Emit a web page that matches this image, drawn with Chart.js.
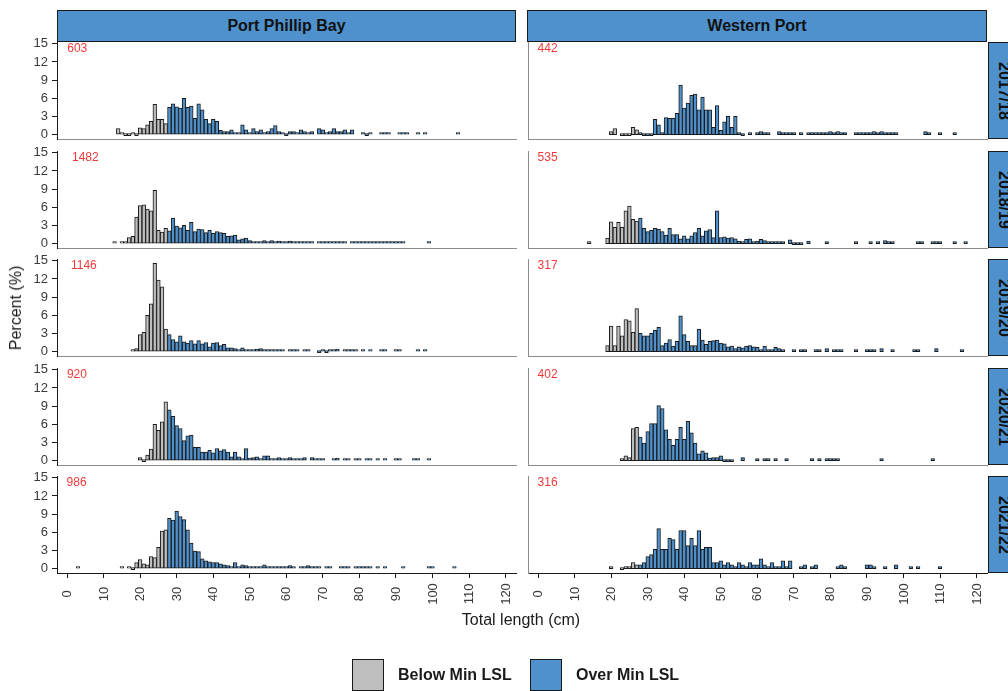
<!DOCTYPE html>
<html><head><meta charset="utf-8">
<script src="https://cdn.jsdelivr.net/npm/chart.js@4.4.1/dist/chart.umd.min.js"></script>
<style>
html,body{margin:0;padding:0;background:#fff;}
body{width:1008px;height:691px;overflow:hidden;position:relative;font-family:"Liberation Sans",Arial,sans-serif;color:#1a1a1a;}
.strip{position:absolute;background:#4e91cd;border:1.5px solid #1a1a1a;box-sizing:border-box;display:flex;align-items:center;justify-content:center;font-weight:bold;font-size:16px;color:#111;}
.rstrip{writing-mode:vertical-rl;}
canvas{position:absolute;}
.txt{position:absolute;white-space:nowrap;}
.lbox{position:absolute;width:32px;height:32px;border:1.5px solid #1a1a1a;box-sizing:border-box;}
</style></head><body>
<script>
// ---------------- data ----------------
const sites = ["Port Phillip Bay", "Western Port"];
const seasons = ["2017/18", "2018/19", "2019/20", "2020/21", "2021/22"];
const countsPPB = [603, 1482, 1146, 920, 986];
const countsWP = [442, 535, 317, 402, 316];
const minLSL = 28;            // first length class (cm) over the minimum legal size
const xTicks = [0, 10, 20, 30, 40, 50, 60, 70, 80, 90, 100, 110, 120];
const yTicks = [0, 3, 6, 9, 12, 15];
const legendLabels = ["Below Min LSL", "Over Min LSL"];

// percent of fish per 1 cm length class; first class given by *Start; null = no bar
const ppb1718Start = 14;
const ppb1718 = [1.0,0.3,0,0,0.2,0,1.1,1.0,1.6,2.2,5.0,2.5,2.5,1.8,4.5,5.1,4.6,4.4,6.0,4.5,4.7,2.7,5.1,4.1,2.5,1.8,2.5,2.2,0.7,0.5,0.5,0.8,0.2,0.3,1.6,0.8,0.3,1.0,0.5,0.8,0.3,0.5,1.0,1.5,0.5,0.2,0,0.5,0.5,0.2,0.8,0.5,0.2,0.5,null,1.0,0.8,0.3,0.5,1.0,0.5,0.5,0.8,0.3,0.8,null,null,0.2,0,0.2,null,null,0.3,0.2,0.3,null,null,0.2,0.2,0.2,null,null,0.3,null,0.2,null,null,null,null,null,null,null,null,0.2];
const ppb1819Start = 13;
const ppb1819 = [0.1,null,0.1,0.3,1.0,1.2,4.4,6.3,6.4,5.7,5.4,8.8,2.2,1.9,2.5,2.1,4.2,2.9,2.6,3.0,2.2,3.5,2.0,2.4,2.3,1.8,2.2,1.7,2.0,1.8,1.7,1.2,1.3,1.4,0.6,0.8,0.9,0.5,0.2,0.3,0.2,0.5,0.3,0.5,0.3,0.4,0.3,0.2,0.4,0.2,0.1,0.1,0.1,0.3,0.1,null,0.1,0.2,0.1,0.2,0.2,0.1,0.2,0.1,null,0.1,0.2,0.1,0.1,0.2,0.1,0.1,0.1,0.2,0.1,0.1,0.3,0.1,0.2,0.3,null,null,null,null,null,null,0.1];
const ppb1920Start = 18;
const ppb1920 = [0.2,0.5,2.8,3.2,6.0,7.9,14.6,11.8,10.7,3.7,2.8,2.0,1.6,2.6,1.6,1.4,1.8,1.3,1.8,1.3,1.5,0.8,1.4,1.5,1.0,1.2,0.6,0.6,0.5,0.3,0.6,0.3,0.3,0.3,0.4,0.5,0.3,0.2,0.1,0.1,0.1,0.1,null,0.2,0.1,0.1,null,0.1,0.1,null,null,0,0.1,0,0.1,0.1,0.4,null,0.1,0.2,0.1,0.1,null,0.1,null,0.1,null,null,0.1,0.1,null,null,0.1,0.1,null,null,null,null,0.1,null,0.1];
const ppb2021Start = 20;
const ppb2021 = [0.5,0,0.9,1.9,6.0,5.0,6.4,9.7,8.4,7.3,5.8,5.3,3.3,4.1,4.2,2.2,2.2,1.4,1.4,1.7,1.3,2.0,1.6,1.8,1.4,0.6,1.4,0.6,0.3,2.0,0.4,0.5,0.6,0.3,0.8,0.8,0.3,0.2,0.5,0.3,0.3,0.5,0.1,0.1,0.3,0.5,null,0.5,0.2,0.1,0.1,null,null,0.1,0.4,null,0.3,0.2,null,0.2,0.1,null,0.1,0.1,null,0.1,null,0.1,null,null,0.1,0.3,null,null,null,0.1,0.1,null,null,0.1];
const ppb2122Start = 3;
const ppb2122 = [0.1,null,null,null,null,null,null,null,null,null,null,null,0.1,null,0.1,0,1.0,1.5,0.8,0.6,2.0,1.8,3.5,6.2,6.4,8.3,8.0,9.5,8.6,8.1,6.4,4.2,2.9,2.8,1.6,1.3,1.1,1.0,1.0,0.8,0.6,0.5,0.3,1.0,0.3,0.6,0.5,0.3,0.2,0.3,0.2,0.6,0.2,0.2,0.2,0.1,0.1,0.2,0.5,0.1,null,0.2,0.1,0.5,0.2,0.1,0.1,null,0.1,0.1,null,null,0.1,0.1,0.1,null,0.1,0.1,0.1,0.3,0.1,null,0.1,null,0.1,null,null,null,null,0.1,null,null,null,null,null,null,0.1,0.1,null,null,null,null,null,0.1];

const wp1718Start = 20;
const wp1718 = [0.5,1.0,null,0,0,0,1.2,0.8,0.2,0,0,0,2.5,1.6,0.2,2.8,2.7,2.7,3.5,8.2,4.4,5.2,6.5,6.7,4.1,6.2,4.1,4.1,1.2,4.8,0.7,2.1,3.0,1.2,3.0,0.3,0,null,0.2,null,0.2,0.5,0.2,0.2,null,null,0.5,0.2,0.2,0.2,0.2,null,0.2,null,0.2,0.2,0.2,0.2,0.2,0.2,0.5,0.2,0.5,0.2,0.2,null,null,0.2,0.2,0.2,0.2,0.2,0.5,0.2,0.5,0.2,0.2,0.2,0.2,null,null,null,null,null,null,null,0.5,0.2,null,null,0.2,null,null,null,0.2];
const wp1819Start = 14;
const wp1819 = [0.2,null,null,null,null,0.9,3.6,2.7,3.5,2.7,5.4,6.2,4.0,3.7,4.2,2.5,2.0,2.2,2.5,2.4,2.0,1.4,2.5,1.5,1.5,0.8,1.3,0.8,1.3,1.8,2.5,1.3,2.1,2.3,1.0,5.4,1.0,1.1,0.9,1.0,0.8,0.4,0.3,0.7,0.8,0.3,0.4,0.7,0.5,0.2,0.2,0.2,0.2,0.2,null,0.6,0,0,0,null,0.4,null,null,null,null,0.2,null,null,null,null,null,null,null,0.2,null,null,null,0.2,null,0.2,null,0.5,0.2,0.2,null,null,null,null,null,null,0.2,0.2,null,null,0.2,0.2,0.2,null,null,null,0.2,null,null,0.2];
const wp1920Start = 19;
const wp1920 = [1.0,4.2,1.0,4.2,2.6,5.3,5.1,3.2,7.1,3.0,2.6,2.6,3.0,3.5,4.0,1.0,1.4,2.0,0.9,1.7,5.9,2.8,1.7,1.0,1.0,3.7,1.9,1.2,1.7,1.8,1.9,1.4,1.3,0.8,0.9,0.5,0.8,0.6,0.9,1.0,0.8,0.7,0.3,0.9,0.3,0.3,0.7,0.5,0.3,null,null,0.3,null,0.2,0.2,null,null,0.2,0.2,null,0.5,null,0.2,0.2,0.2,null,null,null,0.2,null,null,0.3,0.2,0.3,null,0.5,null,null,0.2,null,null,null,null,null,0.2,0.2,null,null,null,null,0.5,null,null,null,null,null,null,0.2];
const wp2021Start = 23;
const wp2021 = [0.2,0.8,0.5,5.3,5.5,3.9,2.9,4.8,6.1,6.1,9.1,8.6,5.1,3.5,2.5,3.5,5.5,3.5,6.5,4.6,2.9,1.1,1.6,1.3,0.4,0.5,0.5,0.8,0,0,0,null,null,0.5,null,null,null,0.2,null,0.2,0.2,null,0.2,null,null,0.2,null,null,null,null,null,null,0.2,null,0.2,null,0.2,0.2,0.2,0.2,null,null,null,null,null,null,null,null,null,null,null,0.2,null,null,null,null,null,null,null,null,null,null,null,null,null,0.2];
const wp2122Start = 20;
const wp2122 = [0.3,null,null,0,0.3,0.3,1.0,0.6,0.6,1.0,2.0,2.3,3.2,6.6,3.2,3.2,5.0,4.8,3.2,6.3,6.3,3.8,5.0,3.8,6.3,3.2,3.5,3.5,1.0,1.0,1.3,0.6,1.0,0.6,0.3,1.0,0.6,0.3,1.0,0.6,0.6,1.6,0.6,0.3,1.0,0.3,0.3,1.3,0.3,1.3,null,null,0.3,0.6,null,0.3,0.6,null,null,null,null,null,0.3,0.6,0.3,null,null,null,null,null,0.6,0.6,0.3,null,null,0.3,null,null,0.6,null,null,null,0.3,null,0.3,null,null,null,null,null,0.3];

const ppbSeries = [[ppb1718Start, ppb1718], [ppb1819Start, ppb1819], [ppb1920Start, ppb1920], [ppb2021Start, ppb2021], [ppb2122Start, ppb2122]];
const wpSeries = [[wp1718Start, wp1718], [wp1819Start, wp1819], [wp1920Start, wp1920], [wp2021Start, wp2021], [wp2122Start, wp2122]];

// ---------------- style / layout ----------------
const GRAY = '#bebebe', BLUE = '#4e91cd', INK = '#1a1a1a', AXGRAY = '#8c8c8c';
const FONT = '"Liberation Sans", Arial, sans-serif';
Chart.defaults.font.family = FONT;
const panelTops = [42, 151, 259, 368, 476];
const panelH = 97;
const colLeft = [0, 520];          // canvas left
const colYAxisW = [57, 8];
const canvasW = [524, 475];
const countLabelX = [[2.8, 5.0, 4.6, 2.7, 2.6], [2.6, 2.6, 2.6, 2.6, 2.6]];

function toPoints(start, vals, below) {
  const pts = [];
  vals.forEach((v, i) => {
    if (v === null) return;
    const x = start + i;
    if ((x < minLSL) === below) pts.push({x: x, y: v});
  });
  return pts;
}

const countPlugin = {
  id: 'countLabel',
  afterDatasetsDraw(chart, args, opts) {
    const {ctx, scales: {x, y}} = chart;
    ctx.save();
    ctx.font = '12px ' + FONT;
    ctx.fillStyle = '#f03a3a';
    ctx.textAlign = 'center';
    ctx.textBaseline = 'middle';
    ctx.fillText(opts.text, x.getPixelForValue(opts.at), y.getPixelForValue(14.2));
    ctx.restore();
  }
};
const xLabelPlugin = {
  id: 'xRotLabels',
  afterDraw(chart, args, opts) {
    if (!opts.show) return;
    const {ctx, chartArea, scales: {x}} = chart;
    ctx.save();
    ctx.font = '13px ' + FONT;
    ctx.fillStyle = '#3a3a3a';
    ctx.textAlign = 'center';
    ctx.textBaseline = 'middle';
    x.ticks.forEach(t => {
      const px = x.getPixelForValue(t.value);
      ctx.save();
      ctx.translate(px + 0.5, chartArea.bottom + 21);
      ctx.rotate(-Math.PI / 2);
      ctx.fillText(String(t.value), 0, 0);
      ctx.restore();
    });
    ctx.restore();
  }
};

function makePanel(col, row) {
  const last = row === 4;
  const series = col === 0 ? ppbSeries[row] : wpSeries[row];
  const count = col === 0 ? countsPPB[row] : countsWP[row];
  const cv = document.createElement('canvas');
  const h = 8 + panelH + (last ? 40 : 8);
  cv.width = canvasW[col]; cv.height = h;
  cv.style.left = colLeft[col] + 'px';
  cv.style.top = (panelTops[row] - 8) + 'px';
  cv.style.width = canvasW[col] + 'px'; cv.style.height = h + 'px';
  document.body.appendChild(cv);
  const barStyle = {borderColor: INK, borderWidth: 1, borderSkipped: false, minBarLength: 2,
    grouped: false, categoryPercentage: 1, barPercentage: 1};
  new Chart(cv, {
    type: 'bar',
    data: {datasets: [
      Object.assign({label: legendLabels[0], data: toPoints(series[0], series[1], true), backgroundColor: GRAY}, barStyle),
      Object.assign({label: legendLabels[1], data: toPoints(series[0], series[1], false), backgroundColor: BLUE}, barStyle)
    ]},
    options: {
      responsive: false, animation: false, events: [], devicePixelRatio: 1,
      layout: {padding: {top: 8, right: 8, bottom: last ? 0 : 8, left: 0}},
      plugins: {legend: {display: false}, tooltip: {enabled: false},
        countLabel: {text: String(count), at: countLabelX[col][row]},
        xRotLabels: {show: last}},
      scales: {
        x: {type: 'linear', min: -2.75, max: 122.85, offset: false,
          afterBuildTicks: s => { s.ticks = xTicks.map(v => ({value: v})); },
          afterFit: s => { s.height = last ? 40 : 0; s.paddingLeft = 0; s.paddingRight = 0; },
          ticks: {display: false},
          grid: {display: last, offset: false, drawOnChartArea: false, drawTicks: true, tickLength: 5, color: INK, tickColor: INK, tickWidth: 1},
          border: {display: true, color: last ? INK : AXGRAY, width: 1}
        },
        y: {type: 'linear', min: -0.73, max: 15.3,
          afterBuildTicks: s => { s.ticks = yTicks.map(v => ({value: v})); },
          afterFit: s => { s.width = colYAxisW[col]; s.paddingTop = 0; s.paddingBottom = 0; },
          ticks: {display: col === 0, color: '#3a3a3a', font: {size: 13}, padding: 4},
          grid: {display: col === 0, drawOnChartArea: false, drawTicks: true, tickLength: 5, color: INK, tickColor: INK},
          border: {display: true, color: col === 0 ? INK : AXGRAY, width: 1}
        }
      }
    },
    plugins: [countPlugin, xLabelPlugin]
  });
}

function addDiv(cls, text, css) {
  const d = document.createElement('div');
  d.className = cls; d.textContent = text || '';
  Object.assign(d.style, css);
  document.body.appendChild(d);
  return d;
}

// column strips
addDiv('strip', sites[0], {left: '57px', top: '10px', width: '459px', height: '32px'});
addDiv('strip', sites[1], {left: '527px', top: '10px', width: '460px', height: '32px'});
// row strips
seasons.forEach((s, r) => {
  addDiv('strip rstrip', s, {left: '988px', top: panelTops[r] + 'px', width: '32px', height: panelH + 'px'});
});
for (let r = 0; r < 5; r++) { makePanel(0, r); makePanel(1, r); }

// axis titles
addDiv('txt', 'Percent (%)', {left: '16px', top: '308px', fontSize: '16px', transform: 'translate(-50%,-50%) rotate(-90deg)'});
addDiv('txt', 'Total length (cm)', {left: '521px', top: '620px', fontSize: '16px', transform: 'translate(-50%,-50%)'});
// legend
addDiv('lbox', '', {left: '352px', top: '659px', background: GRAY});
addDiv('txt', legendLabels[0], {left: '398px', top: '675px', fontSize: '16px', fontWeight: 'bold', transform: 'translateY(-50%)'});
addDiv('lbox', '', {left: '530px', top: '659px', background: BLUE});
addDiv('txt', legendLabels[1], {left: '576px', top: '675px', fontSize: '16px', fontWeight: 'bold', transform: 'translateY(-50%)'});
</script>
</body></html>
